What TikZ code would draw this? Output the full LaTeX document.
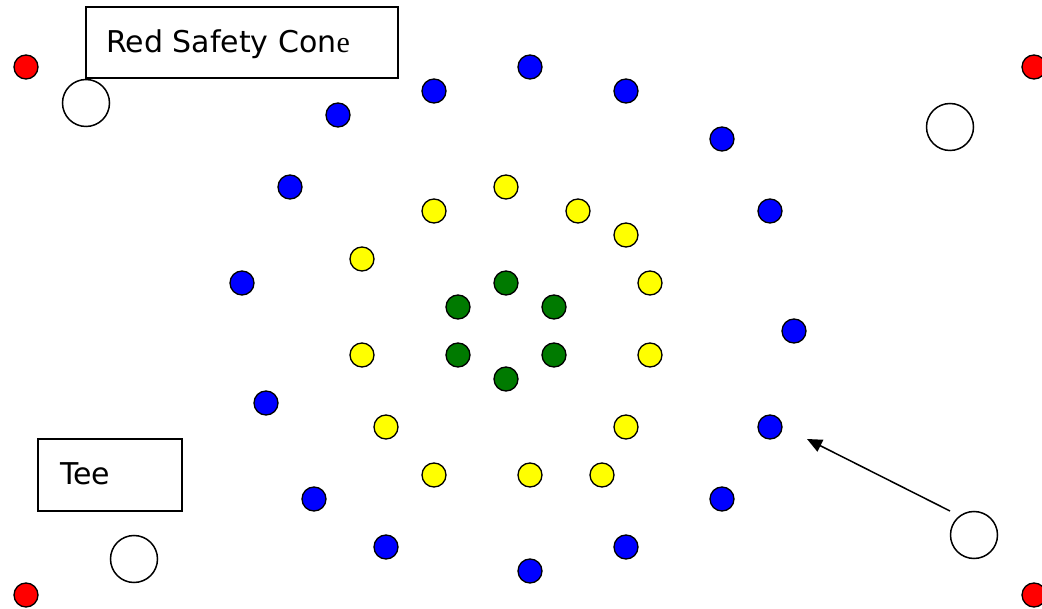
\documentclass[tikz,border=0pt]{standalone}
\usepackage{fontspec}
\setmainfont{DejaVu Sans}
\newfontfamily\serifE{Liberation Serif}
\usetikzlibrary{arrows.meta}
\definecolor{cred}{RGB}{255,0,0}
\definecolor{cblue}{RGB}{0,0,255}
\definecolor{cyellow}{RGB}{255,255,0}
\definecolor{cgreen}{RGB}{0,122,0}
\tikzset{
  dot/.style={circle,draw=black,line width=1.3pt,minimum size=24pt,inner sep=0pt},
  reddot/.style={dot,fill=cred},
  bluedot/.style={dot,fill=cblue},
  yellowdot/.style={dot,fill=cyellow},
  greendot/.style={dot,fill=cgreen},
  conering/.style={circle,draw=black,line width=1.5pt,fill=white,minimum size=47pt,inner sep=0pt},
  labelbox/.style={draw=black,line width=1.3pt,inner sep=0pt},
  labeltext/.style={anchor=base west,inner sep=0pt,font=\fontsize{30}{34}\selectfont},
  arrowline/.style={line width=1.5pt,-{Triangle[length=15pt,width=13pt]}}
}
\begin{document}
\begin{tikzpicture}[x=1pt,y=-1pt]
\useasboundingbox (0,0) rectangle (1042,609);
% red corner dots
\node[reddot] (r1) at (26,67) {};
\node[reddot] (r2) at (1034,67) {};
\node[reddot] (r3) at (26,595) {};
\node[reddot] (r4) at (1034,595) {};
% white rings
\node[conering] (w1) at (86,103) {};
\node[conering] (w2) at (950,127) {};
\node[conering] (w3) at (134,559) {};
\node[conering] (w4) at (974,535) {};
% blue
\foreach \x/\y [count=\i] in {530/67,434/91,626/91,338/115,722/139,290/187,770/211,242/283,794/331,266/403,770/427,314/499,722/499,386/547,626/547,530/571}
  \node[bluedot] (b\i) at (\x,\y) {};
% yellow
\foreach \x/\y [count=\i] in {506/187,434/211,578/211,626/235,362/259,650/283,362/355,650/355,386/427,626/427,434/475,530/475,602/475}
  \node[yellowdot] (y\i) at (\x,\y) {};
% green
\foreach \x/\y [count=\i] in {506/283,458/307,554/307,458/355,554/355,506/379}
  \node[greendot] (g\i) at (\x,\y) {};
% label boxes
\node[labelbox,minimum width=312pt,minimum height=71pt] (lbl1) at (242,42.5) {};
\node[labeltext] (t1) at (106,53) {Red Safety Con{\serifE e}};
\node[labelbox,minimum width=144pt,minimum height=72pt] (lbl2) at (110,475) {};
\node[labeltext] (t2) at (60,485) {Tee};
% arrow
\coordinate (as) at (950,511);
\coordinate (ae) at (807,439);
\draw[arrowline] (as) -- (ae);
\end{tikzpicture}
\end{document}
